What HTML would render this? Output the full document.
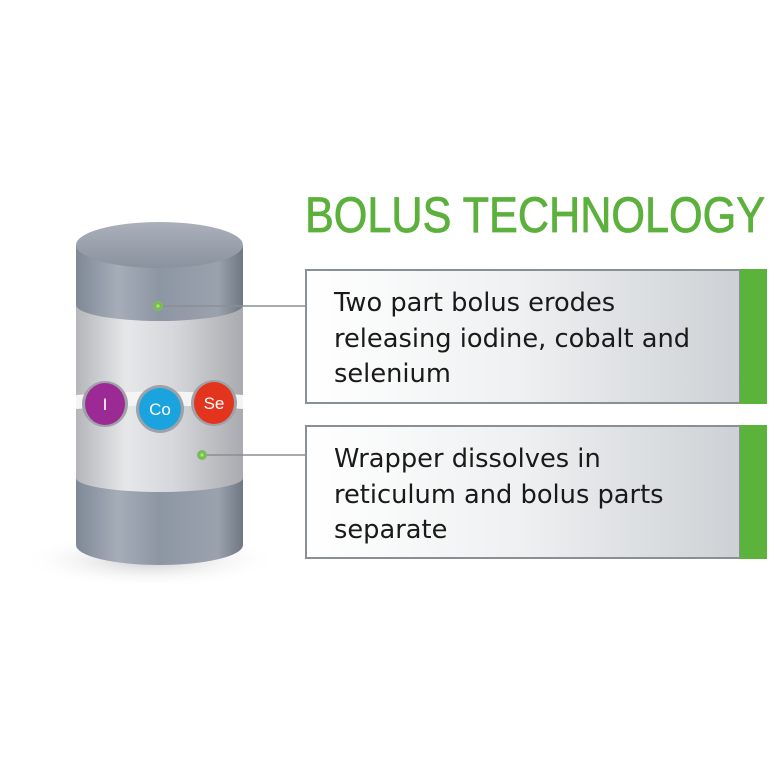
<!DOCTYPE html>
<html><head><meta charset="utf-8"><style>
html,body{margin:0;padding:0;background:#fff;}
svg{display:block}
</style></head><body>
<svg width="776" height="776" viewBox="0 0 776 776" xmlns="http://www.w3.org/2000/svg">
<defs>
<linearGradient id="dark" x1="0" x2="1" y1="0" y2="0">
<stop offset="0" stop-color="#7f8896"/><stop offset="0.25" stop-color="#a5adb8"/><stop offset="0.5" stop-color="#8d96a3"/><stop offset="0.85" stop-color="#9aa2ad"/><stop offset="1" stop-color="#6f7783"/>
</linearGradient>
<linearGradient id="silver" x1="0" x2="1" y1="0" y2="0">
<stop offset="0" stop-color="#b4b6ba"/><stop offset="0.3" stop-color="#e6e7e9"/><stop offset="0.6" stop-color="#d5d6d9"/><stop offset="1" stop-color="#a9abb0"/>
</linearGradient>
<linearGradient id="top" x1="0" x2="0" y1="0" y2="1">
<stop offset="0" stop-color="#aab1bb"/><stop offset="1" stop-color="#8a929e"/>
</linearGradient>
<linearGradient id="box" x1="0" x2="1" y1="0" y2="0">
<stop offset="0" stop-color="#ffffff"/><stop offset="0.5" stop-color="#eef0f1"/><stop offset="1" stop-color="#cdd1d5"/>
</linearGradient>
<radialGradient id="shadow" cx="0.5" cy="0.5" r="0.5">
<stop offset="0" stop-color="#bbb" stop-opacity="0.8"/><stop offset="1" stop-color="#fff" stop-opacity="0"/>
</radialGradient>
<radialGradient id="dot"><stop offset="0" stop-color="#c8f0a8"/><stop offset="0.5" stop-color="#6cc23a"/><stop offset="1" stop-color="#8fb07a"/></radialGradient>
</defs>
<ellipse cx="150" cy="560" rx="130" ry="28" fill="url(#shadow)"/>
<path d="M76 470 L76 545 A83.5 20 0 0 0 243 545 L243 470 Z" fill="url(#dark)"/>
<path d="M76 300 L76 478 A83.5 14 0 0 0 243 478 L243 300 Z" fill="url(#silver)"/>
<path d="M76 245 L76 305 A83.5 16 0 0 0 243 305 L243 245 Z" fill="url(#dark)"/>
<ellipse cx="159.5" cy="245" rx="83.5" ry="23" fill="url(#top)"/>
<path d="M76 395 Q160 388 243 395 L243 409 Q160 402 76 409 Z" fill="#f4f4f4"/>
<g font-family="Liberation Sans, sans-serif" fill="#fff" text-anchor="middle" font-size="17">
<circle cx="105" cy="404" r="23" fill="#9ea2a8"/><ellipse cx="105" cy="404" rx="20" ry="21" fill="#9c2a95"/><text x="105" y="410">I</text>
<circle cx="160" cy="409" r="24" fill="#9ea2a8"/><circle cx="160" cy="409" r="21" fill="#1ba3e0"/><text x="160" y="415">Co</text>
<circle cx="214" cy="403" r="23" fill="#9ea2a8"/><ellipse cx="214" cy="403" rx="20" ry="21" fill="#e3351e"/><text x="214" y="409">Se</text>
</g>
<line x1="160" y1="306" x2="306" y2="306" stroke="#8a8f94" stroke-width="1.5"/>
<line x1="202" y1="455" x2="306" y2="455" stroke="#8a8f94" stroke-width="1.5"/>
<circle cx="158" cy="306" r="5" fill="url(#dot)"/>
<circle cx="202" cy="455" r="5" fill="url(#dot)"/>
<text x="305" y="232" font-family="Liberation Sans, sans-serif" font-size="50" fill="#5cb13d" stroke="#5cb13d" stroke-width="0.8" textLength="460" lengthAdjust="spacingAndGlyphs">BOLUS TECHNOLOGY</text>
<rect x="306" y="270" width="434" height="133" fill="url(#box)" stroke="#8a8f94" stroke-width="2"/>
<rect x="740" y="269" width="27" height="135" fill="#5bb33c"/>
<rect x="306" y="426" width="434" height="132" fill="url(#box)" stroke="#8a8f94" stroke-width="2"/>
<rect x="740" y="425" width="27" height="134" fill="#5bb33c"/>
<g font-family="DejaVu Sans, sans-serif" font-size="25.7" fill="#1a1a1a">
<text x="334" y="311">Two part bolus erodes</text>
<text x="334" y="347">releasing iodine, cobalt and</text>
<text x="334" y="382">selenium</text>
<text x="334" y="467">Wrapper dissolves in</text>
<text x="334" y="503">reticulum and bolus parts</text>
<text x="334" y="538">separate</text>
</g>
</svg>
</body></html>
